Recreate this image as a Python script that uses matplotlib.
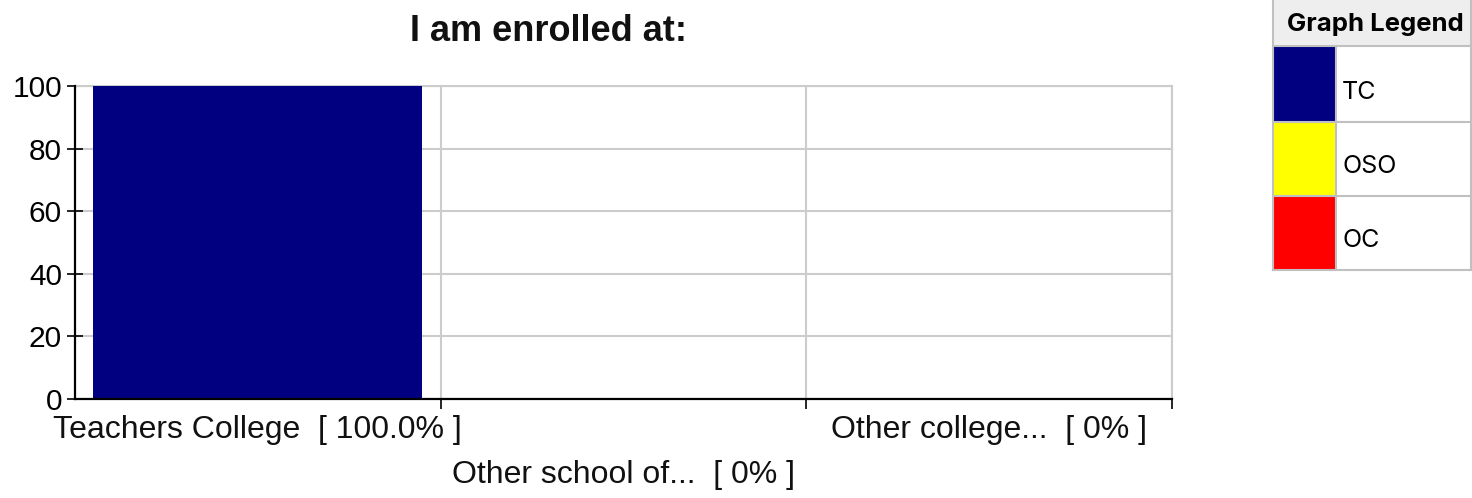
import matplotlib
matplotlib.use("Agg")
import matplotlib.pyplot as plt
from matplotlib.patches import Rectangle

# ---------------- DATA ----------------
title = "I am enrolled at:"
categories = ["Teachers College", "Other school of...", "Other college..."]
pct_labels = ["[ 100.0% ]", "[ 0% ]", "[ 0% ]"]
values = [100, 0, 0]
short_names = ["TC", "OSO", "OC"]
colors = ["#000080", "#FFFF00", "#FF0000"]
y_ticks = [0, 20, 40, 60, 80, 100]

# ---------------- FIGURE ----------------
W, H = 1472, 498
fig = plt.figure(figsize=(W / 100, H / 100), dpi=100)
fig.patch.set_facecolor("white")

ax = fig.add_axes([75 / W, (H - 399) / H, 1097 / W, 313 / H])

x_pos = [i + 0.5 for i in range(len(categories))]
ax.bar(x_pos, values, width=0.9, color=colors, edgecolor="none", zorder=3)

ax.set_xlim(0, len(categories))
ax.set_ylim(0, 100)

# grid + spines
grid_col = "#cccccc"
ax.set_yticks(y_ticks)
ax.set_xticks(range(1, len(categories) + 1))
ax.set_xticklabels([])
ax.grid(True, color=grid_col, linewidth=1.5, zorder=0)
for s in ["top", "right"]:
    ax.spines[s].set_color(grid_col)
    ax.spines[s].set_linewidth(1.5)
for s in ["left", "bottom"]:
    ax.spines[s].set_color("black")
    ax.spines[s].set_linewidth(1.6)
    ax.spines[s].set_zorder(4)

ax.tick_params(axis="y", direction="inout", length=11.5, width=1.2,
               pad=3.6, labelsize=21.5)
ax.tick_params(axis="x", direction="out", length=7.2, width=1.2)
for lab in ax.get_yticklabels():
    lab.set_fontfamily("Liberation Sans")

# staggered category labels
offsets = [-22.3, -54.7, -22.3]
for x, cat, pct, off in zip(x_pos, categories, pct_labels, offsets):
    ax.annotate(cat + "  " + pct, xy=(x, 0), xycoords=("data", "axes fraction"),
                xytext=(0, off), textcoords="offset points",
                ha="center", va="center", fontsize=23,
                family="Liberation Sans", color="#111111")

fig.text(549 / W, (H - 41) / H, title, ha="center", va="baseline",
         fontsize=26, fontweight="bold", family="Liberation Sans",
         color="#111111")

# ---------------- LEGEND TABLE ----------------
lg = fig.add_axes([0, 0, 1, 1])
lg.set_xlim(0, W)
lg.set_ylim(H, 0)
lg.axis("off")

border = "#c0c0c0"
x0, x1, xs = 1273, 1471, 1336
rows = [46, 122, 196, 270]
lg.add_patch(Rectangle((x0, 0), x1 - x0, rows[0], facecolor="#eeeeee",
                       edgecolor="none"))
for i, (name, c) in enumerate(zip(short_names, colors)):
    lg.add_patch(Rectangle((x0, rows[i]), xs - x0, rows[i + 1] - rows[i],
                           facecolor=c, edgecolor="none"))
    lg.text(1342, rows[i + 1] - 23, name, ha="left", va="baseline",
            fontsize=18, family="Inter", color="black")
for y in rows:
    lg.plot([x0, x1], [y, y], color=border, linewidth=1.5)
lg.plot([x0, x0], [0, rows[-1]], color=border, linewidth=1.5)
lg.plot([x1, x1], [0, rows[-1]], color=border, linewidth=1.5)
lg.plot([xs, xs], [rows[0], rows[-1]], color=border, linewidth=1.5)
lg.text(1375.5, 31, "Graph Legend", ha="center", va="baseline",
        fontsize=18.5, fontweight="bold", family="Inter", color="black")

fig.savefig("out.png", dpi=100)
